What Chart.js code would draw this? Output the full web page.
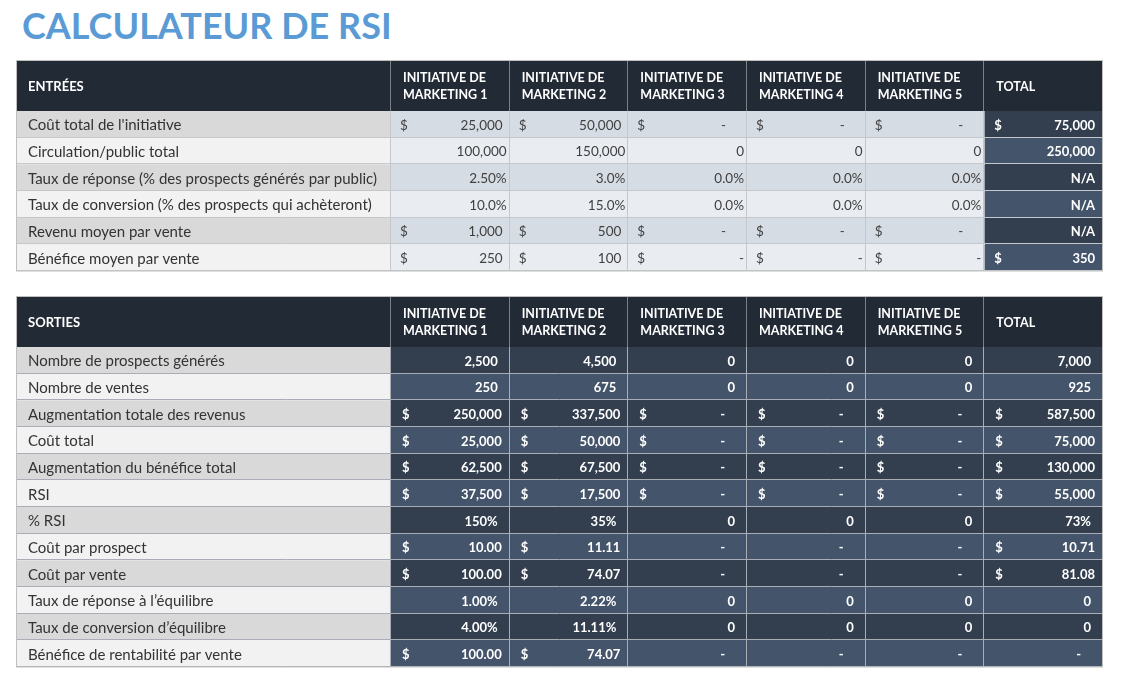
<!DOCTYPE html>
<html lang="fr">
<head>
<meta charset="UTF-8">
<title>Calculateur de RSI</title>
<script src="https://cdn.jsdelivr.net/npm/chart.js"></script>
<style>
  body { margin: 0; background: #fff; width: 1124px; height: 688px; overflow: hidden; position: relative; }
  h1 { position: absolute; left: 22px; top: 3px; margin: 0; font: bold 36px Lato, sans-serif; color: #5b9bd5; }
  canvas { position: absolute; left: 16px; }
  #entrees { top: 60px; }
  #sorties { top: 296px; }
</style>
</head>
<body>
<h1>CALCULATEUR DE RSI</h1>
<canvas id="entrees" width="1088" height="212"></canvas>
<canvas id="sorties" width="1088" height="372"></canvas>

<script>
// En-têtes des colonnes
const enTetes = [
  ['INITIATIVE DE', 'MARKETING 1'],
  ['INITIATIVE DE', 'MARKETING 2'],
  ['INITIATIVE DE', 'MARKETING 3'],
  ['INITIATIVE DE', 'MARKETING 4'],
  ['INITIATIVE DE', 'MARKETING 5'],
  ['TOTAL']
];

// Entrées (5 initiatives + total)
const libellesEntrees = [
  "Coût total de l'initiative",
  'Circulation/public total',
  'Taux de réponse (% des prospects générés par public)',
  'Taux de conversion (% des prospects qui achèteront)',
  'Revenu moyen par vente',
  'Bénéfice moyen par vente'
];
const coutInitiative = [25000, 50000, 0, 0, 0, 75000];
const circulation = [100000, 150000, 0, 0, 0, 250000];
const tauxReponse = [0.025, 0.03, 0, 0, 0, null];
const decimalesReponse = [2, 1, 1, 1, 1, 1];
const tauxConversion = [0.10, 0.15, 0, 0, 0, null];
const revenuMoyen = [1000, 500, 0, 0, 0, null];
const beneficeMoyen = [250, 100, 0, 0, 0, 350];

// Sorties
const libellesSorties = [
  'Nombre de prospects générés',
  'Nombre de ventes',
  'Augmentation totale des revenus',
  'Coût total',
  'Augmentation du bénéfice total',
  'RSI',
  '% RSI',
  'Coût par prospect',
  'Coût par vente',
  'Taux de réponse à l’équilibre',
  'Taux de conversion d’équilibre',
  'Bénéfice de rentabilité par vente'
];
const prospects = [2500, 4500, 0, 0, 0, 7000];
const ventes = [250, 675, 0, 0, 0, 925];
const augRevenus = [250000, 337500, 0, 0, 0, 587500];
const coutTotal = [25000, 50000, 0, 0, 0, 75000];
const augBenefice = [62500, 67500, 0, 0, 0, 130000];
const rsi = [37500, 17500, 0, 0, 0, 55000];
const pctRsi = [1.50, 0.35, 0, 0, 0, 0.73];
const coutProspect = [10.00, 11.11, null, null, null, 10.71];
const coutVente = [100.00, 74.07, null, null, null, 81.08];
const tauxReponseEq = [0.01, 0.0222, 0, 0, 0, 0];
const tauxConversionEq = [0.04, 0.1111, 0, 0, 0, 0];
const beneficeRentab = [100.00, 74.07, null, null, null, null];

const POLICE = 'Lato, sans-serif';

function nombre(v, dec) {
  return v.toLocaleString('en-US', { minimumFractionDigits: dec, maximumFractionDigits: dec });
}

// renvoie {dollar, texte, tiret}
function formater(v, type, dec, vide) {
  if (v === null) return { dollar: false, texte: vide, tiret: vide === '-' };
  if (type === 'usd' || type === 'usdt') {
    if (v === 0) return { dollar: true, texte: '-', tiret: type === 'usd' };
    return { dollar: true, texte: nombre(v, 0), monnaie: true };
  }
  if (type === 'usd2') return { dollar: true, texte: nombre(v, 2), monnaie: true };
  if (type === 'int') return { texte: nombre(v, 0) };
  if (type === 'pct') return { texte: nombre(v * 100, dec) + '%' };
  if (type === 'pctz') return { texte: v === 0 ? '0' : nombre(v * 100, dec) + '%' };
  return { texte: String(v) };
}

const lignesEntrees = [
  { valeurs: coutInitiative, type: 'usd' },
  { valeurs: circulation, type: 'int' },
  { valeurs: tauxReponse, type: 'pct', dec: decimalesReponse },
  { valeurs: tauxConversion, type: 'pct', dec: 1 },
  { valeurs: revenuMoyen, type: 'usd' },
  { valeurs: beneficeMoyen, type: 'usdt' }
];

const lignesSorties = [
  { valeurs: prospects, type: 'int' },
  { valeurs: ventes, type: 'int' },
  { valeurs: augRevenus, type: 'usd' },
  { valeurs: coutTotal, type: 'usd' },
  { valeurs: augBenefice, type: 'usd' },
  { valeurs: rsi, type: 'usd' },
  { valeurs: pctRsi, type: 'pctz', dec: 0 },
  { valeurs: coutProspect, type: 'usd2' },
  { valeurs: coutVente, type: 'usd2' },
  { valeurs: tauxReponseEq, type: 'pctz', dec: 2 },
  { valeurs: tauxConversionEq, type: 'pctz', dec: 2 },
  { valeurs: beneficeRentab, type: 'usd2' }
];

const pluginTableau = {
  id: 'tableau',
  beforeDatasetsDraw(chart, args, opts) {
    const ctx = chart.ctx;
    const ca = chart.chartArea;
    const y = chart.scales.y;
    const demi = (y.getPixelForValue(1) - y.getPixelForValue(0)) / 2;
    ctx.save();
    // en-tête
    ctx.fillStyle = '#222a35';
    ctx.fillRect(0, 0, ca.right, ca.top);
    // colonne des libellés
    opts.libelles.forEach((lib, r) => {
      const cy = y.getPixelForValue(r);
      ctx.fillStyle = r % 2 === 0 ? '#d9d9d9' : '#f2f2f2';
      ctx.fillRect(0, cy - demi, ca.left, demi * 2);
    });
    ctx.restore();
  },
  afterDatasetsDraw(chart, args, opts) {
    const ctx = chart.ctx;
    const ca = chart.chartArea;
    const x = chart.scales.x;
    const y = chart.scales.y;
    const demi = (y.getPixelForValue(1) - y.getPixelForValue(0)) / 2;
    ctx.save();

    // quadrillage
    ctx.lineWidth = 1;
    ctx.strokeStyle = opts.grille;
    opts.libelles.forEach((lib, r) => {
      const yb = Math.round(y.getPixelForValue(r) + demi) - 0.5;
      ctx.beginPath();
      ctx.moveTo(0, yb);
      ctx.lineTo(ca.right, yb);
      ctx.stroke();
    });
    for (let c = 0; c <= enTetes.length; c++) {
      const xv = Math.round(x.getPixelForValue(c)) - 0.5;
      ctx.strokeStyle = '#7b7f86';
      ctx.beginPath();
      ctx.moveTo(xv, 0);
      ctx.lineTo(xv, ca.top);
      ctx.stroke();
      ctx.strokeStyle = opts.grille;
      ctx.beginPath();
      ctx.moveTo(xv, ca.top);
      ctx.lineTo(xv, ca.bottom);
      ctx.stroke();
    }
    ctx.strokeStyle = '#bfbfbf';
    ctx.strokeRect(0.5, 0.5, ca.right - 1, ca.bottom - 0.5);

    // en-têtes
    ctx.fillStyle = '#ffffff';
    ctx.textBaseline = 'middle';
    ctx.textAlign = 'left';
    ctx.font = 'bold 13px ' + POLICE;
    const hy = ca.top / 2 + 1;
    ctx.fillText(opts.titre, 12, hy);
    ctx.font = 'bold 12.5px ' + POLICE;
    enTetes.forEach((lignes, c) => {
      const xl = x.getPixelForValue(c) + 12;
      if (lignes.length === 1) {
        ctx.fillText(lignes[0], xl, hy);
      } else {
        ctx.fillText(lignes[0], xl, hy - 8.5);
        ctx.fillText(lignes[1], xl, hy + 8.5);
      }
    });

    // libellés
    ctx.font = '15px ' + POLICE;
    ctx.fillStyle = '#333333';
    opts.libelles.forEach((lib, r) => {
      ctx.fillText(lib, 12, y.getPixelForValue(r) + 1);
    });

    // valeurs
    const p = opts.marges;
    opts.lignes.forEach((ligne, r) => {
      const cy = y.getPixelForValue(r) + 1;
      ligne.valeurs.forEach((v, c) => {
        const dec = Array.isArray(ligne.dec) ? ligne.dec[c] : ligne.dec;
        const cell = formater(v, ligne.type, dec, opts.vide);
        const gauche = x.getPixelForValue(c);
        const droite = x.getPixelForValue(c + 1);
        const fonce = opts.sortie || c === enTetes.length - 1;
        ctx.font = (fonce ? 'bold 13px ' : '13.5px ') + POLICE;
        ctx.fillStyle = fonce ? '#ffffff' : '#404040';
        if (cell.dollar) {
          ctx.textAlign = 'left';
          ctx.fillText('$', gauche + (fonce ? p.dollarF : p.dollar), cy);
        }
        let marge = p.simple;
        if (cell.monnaie) marge = p.monnaie;
        if (cell.tiret) marge = p.tiret;
        if (fonce && !opts.sortie) marge = p.total;
        if (fonce && !opts.sortie && cell.tiret) marge = p.tiret;
        ctx.textAlign = 'right';
        ctx.fillText(cell.texte, droite - marge, cy);
      });
    });
    ctx.restore();
  }
};

function creerTableau(id, titre, libelles, lignes, couleur, sortie, marges, vide, grille) {
  const datasets = enTetes.map((h, c) => ({
    label: h.join(' '),
    data: libelles.map(() => [c, c + 1]),
    backgroundColor: libelles.map((_, r) => couleur(r, c)),
    borderWidth: 0,
    barPercentage: 1,
    categoryPercentage: 1,
    grouped: false
  }));
  return new Chart(document.getElementById(id).getContext('2d'), {
    type: 'bar',
    data: { labels: libelles, datasets: datasets },
    options: {
      indexAxis: 'y',
      responsive: false,
      animation: false,
      events: [],
      layout: { padding: { left: 375, top: 51, right: 1, bottom: 1 } },
      scales: {
        x: { type: 'linear', min: 0, max: enTetes.length, display: false },
        y: { type: 'category', display: false }
      },
      plugins: {
        legend: { display: false },
        tooltip: { enabled: false },
        tableau: { titre, libelles, lignes, sortie, marges, vide, grille }
      }
    },
    plugins: [pluginTableau]
  });
}

creerTableau('entrees', 'ENTRÉES', libellesEntrees, lignesEntrees,
  (r, c) => c === enTetes.length - 1
    ? (r % 2 === 0 ? '#333f4f' : '#44546a')
    : (r % 2 === 0 ? '#d6dce4' : '#e9edf2'),
  false,
  { dollar: 9, dollarF: 10, monnaie: 7, simple: 3, tiret: 21, total: 8 },
  'N/A', '#c4c7cc');

creerTableau('sorties', 'SORTIES', libellesSorties, lignesSorties,
  (r, c) => r % 2 === 0 ? '#333f4f' : '#44546a',
  true,
  { dollar: 11, dollarF: 11, monnaie: 8, simple: 12, tiret: 22, total: 8 },
  '-', '#a9aeb6');
</script>
</body>
</html>
